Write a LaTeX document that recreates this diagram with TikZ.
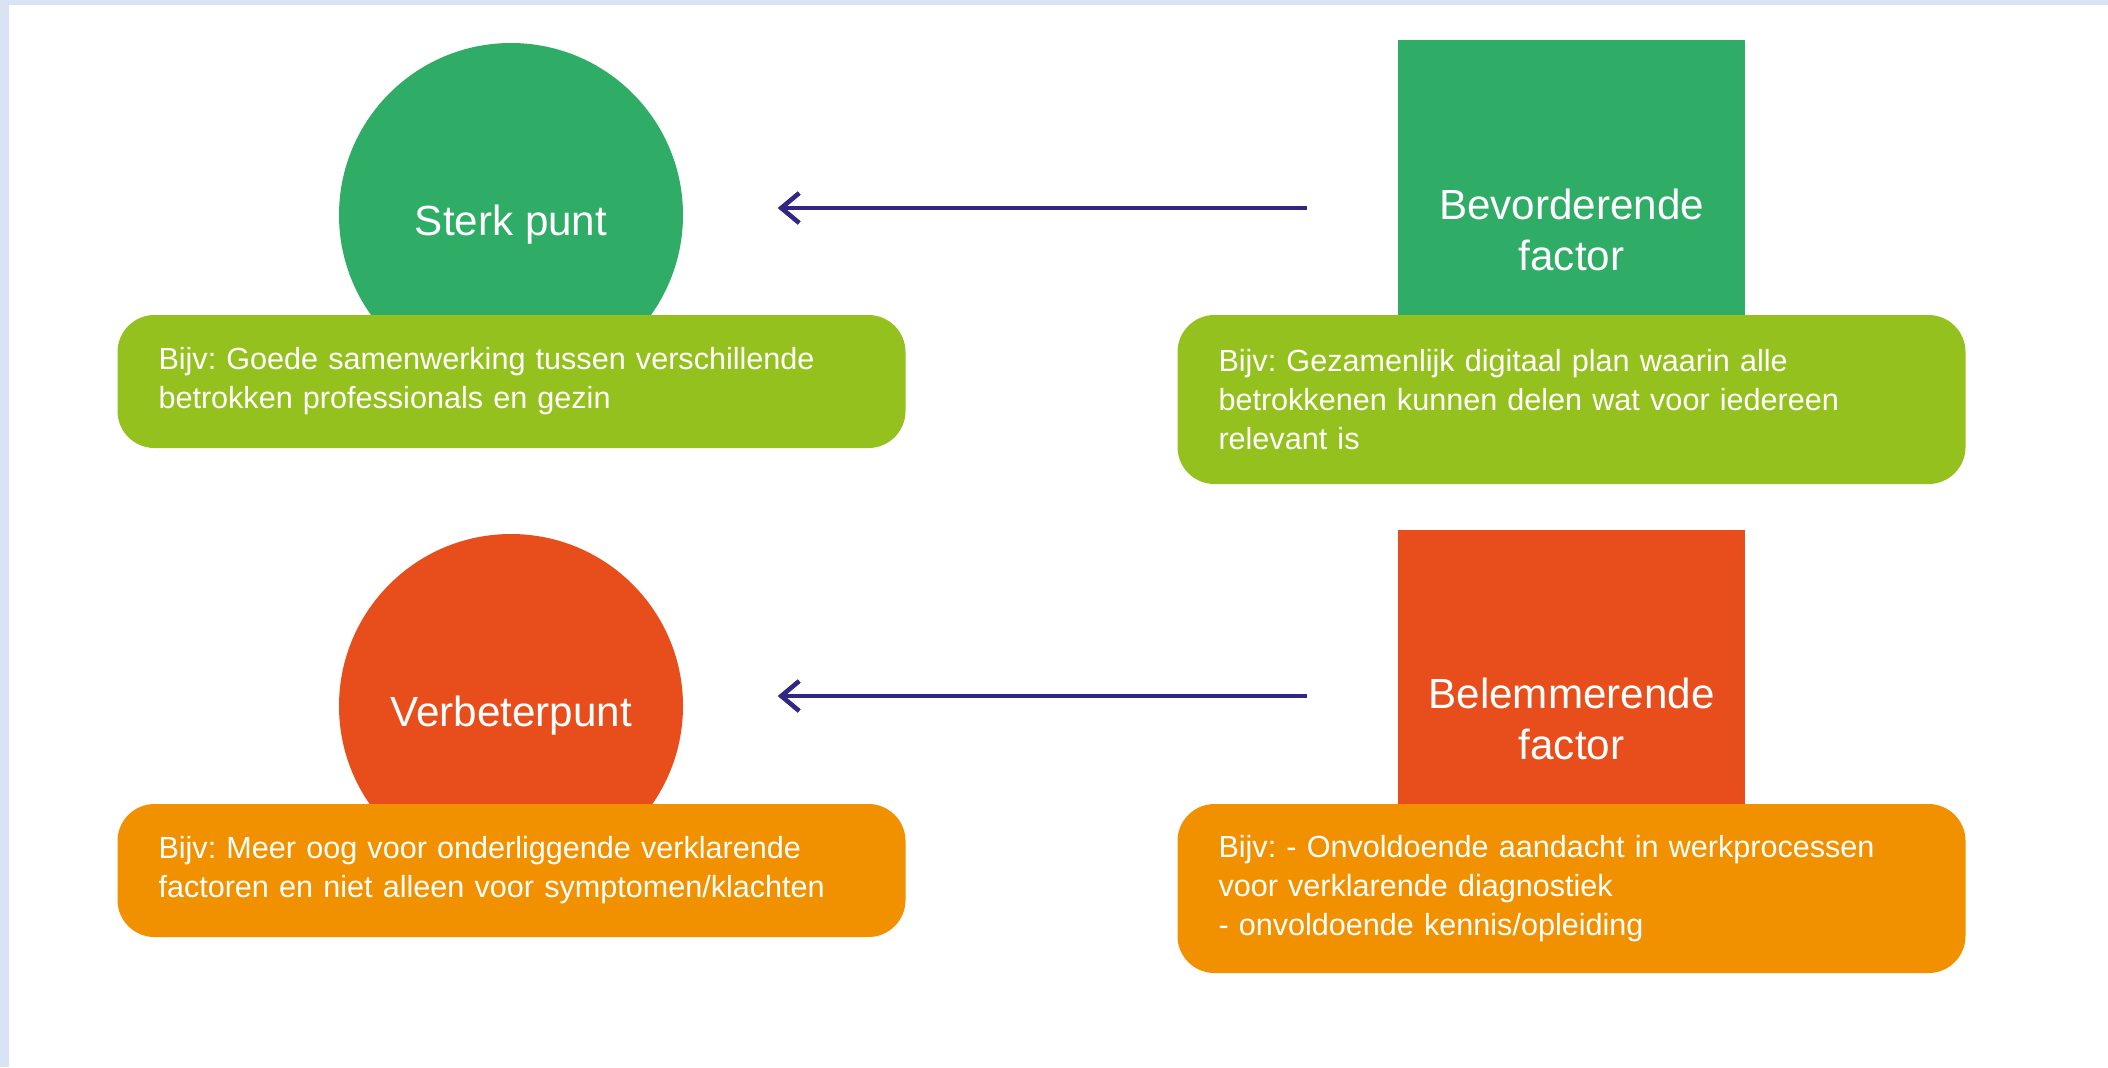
\documentclass[tikz,border=0pt]{standalone}
\usepackage{fontspec}
\setmainfont{Liberation Sans}
\frenchspacing
\usetikzlibrary{arrows.meta}
\definecolor{groen}{HTML}{2FAC66}
\definecolor{lichtgroen}{HTML}{95C11F}
\definecolor{rood}{HTML}{E84E1B}
\definecolor{oranje}{HTML}{F29100}
\definecolor{paars}{HTML}{312783}
\definecolor{rand}{HTML}{DAE3F3}

\begin{document}
\begin{tikzpicture}[x=1cm, y=-1cm,
    kop/.style={text=white, font=\fontsize{12}{14.5}\selectfont, align=center, inner sep=0pt},
    punt/.style={kop, circle, minimum size=3.44cm, text height=11.5pt, text depth=0pt},
    factor/.style={kop, rectangle, minimum width=3.47cm},
    voorbeeld/.style={text=white, font=\fontsize{8.7}{11.1}\selectfont, rounded corners=0.37cm,
      text width=7.06cm, align=left, inner xsep=0.41cm, inner ysep=0pt},
    pijl/.style={draw=paars, line width=1.3pt, -{Straight Barb[length=0.18cm, width=0.3cm]}}]
    % frame
    \fill[rand] (0,0) rectangle (21.08,10.67); \fill[white] (0.09,0.05) rectangle (21.08,10.67);
    \useasboundingbox (0,0) rectangle (21.08,10.67);
    % top row
    \node[punt, fill=groen] (sterk) at (5.11,2.15) {Sterk punt}; \node[factor, fill=groen,
    minimum height=3.80cm] (bevord) at (15.715,2.30) {Bevorderende\\factor};
    \node[voorbeeld, fill=lichtgroen, minimum height=1.33cm] (v0) at (5.115,3.815)
    {Bijv: Goede samenwerking tussen verschillende\\betrokken professionals en gezin};
    \node[voorbeeld, fill=lichtgroen, minimum height=1.69cm] (v1) at (15.715,3.995)
    {Bijv: Gezamenlijk digitaal plan waarin alle\\betrokkenen kunnen delen wat voor iedereen\\relevant is};
    % bottom row
    \node[punt, fill=rood] (verbeter) at (5.11,7.06) {Verbeterpunt}; \node[factor, fill=rood,
    minimum height=3.77cm] (belem) at (15.715,7.185) {Belemmerende\\factor};
    \node[voorbeeld, fill=oranje, minimum height=1.33cm] (v2) at (5.115,8.705)
    {Bijv: Meer oog voor onderliggende verklarende\\factoren en niet alleen voor symptomen/klachten};
    \node[voorbeeld, fill=oranje, minimum height=1.69cm] (v3) at (15.715,8.885)
    {Bijv: - Onvoldoende aandacht in werkprocessen\\voor verklarende diagnostiek\\- onvoldoende kennis/opleiding};
    % arrows
    \draw[pijl, shorten <=0.9cm, shorten >=0.94cm, transform canvas={yshift=0.07cm}]
    (bevord.west |- sterk.east) -- (sterk.east);
    \draw[pijl, shorten <=0.9cm, shorten >=0.94cm, transform canvas={yshift=0.10cm}]
    (belem.west |- verbeter.east) -- (verbeter.east);
  \end{tikzpicture}
\end{document}
